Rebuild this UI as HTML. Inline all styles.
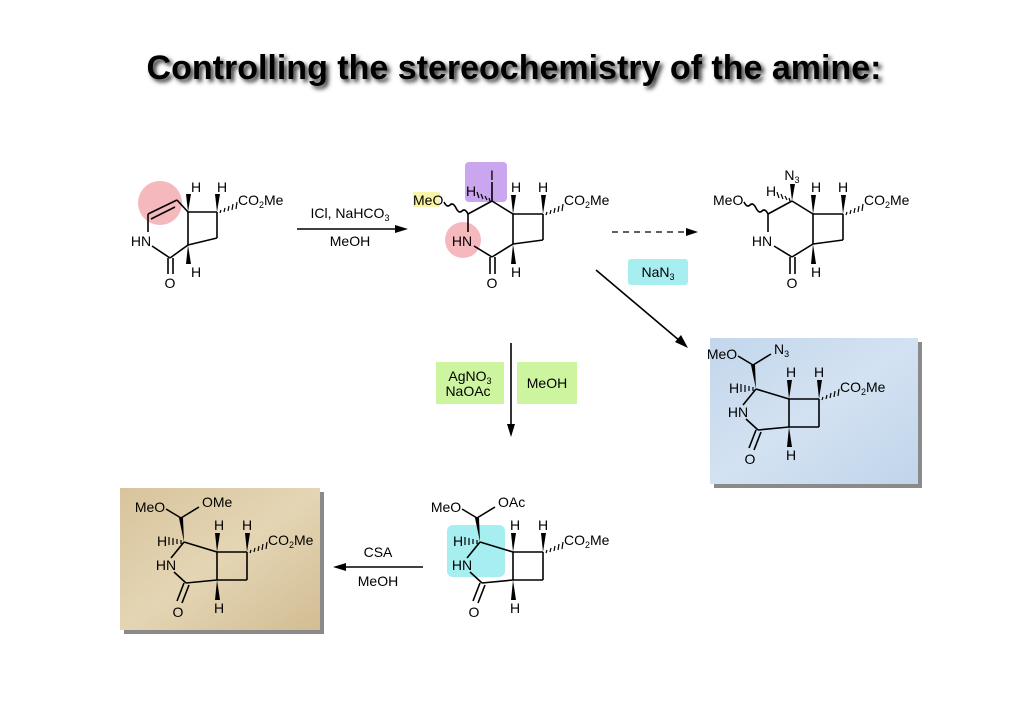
<!DOCTYPE html>
<html><head><meta charset="utf-8"><style>
html,body{margin:0;padding:0;background:#fff;}
svg{display:block;}
text{font-family:"Liberation Sans",sans-serif;font-size:14px;fill:#000;}
.b{stroke:#000;stroke-width:1.6;fill:none;}
.h{stroke:#000;stroke-width:1.2;}
</style></head><body>
<svg width="1024" height="724" viewBox="0 0 1024 724" xmlns="http://www.w3.org/2000/svg">
<defs>
<linearGradient id="blue" x1="0" y1="0" x2="1" y2="1">
<stop offset="0" stop-color="#c3d6ec"/><stop offset="0.5" stop-color="#d3e2f2"/><stop offset="1" stop-color="#c0d4ea"/></linearGradient>
<linearGradient id="tan" x1="0" y1="0" x2="1" y2="1">
<stop offset="0" stop-color="#d8c49c"/><stop offset="0.5" stop-color="#e4d5b4"/><stop offset="1" stop-color="#d2bd93"/></linearGradient>
<filter id="sh" x="-10%" y="-50%" width="120%" height="200%"><feGaussianBlur stdDeviation="2"/></filter>
</defs>
<!-- title -->
<text x="517" y="82" text-anchor="middle" filter="url(#sh)" style="font-size:34px;font-weight:bold;fill:#333">Controlling the stereochemistry of the amine:</text>
<text x="514" y="79" text-anchor="middle" style="font-size:34px;font-weight:bold">Controlling the stereochemistry of the amine:</text>

<!-- Molecule 1 -->
<circle cx="160" cy="203" r="22" fill="#f4b8bd"/>
<g>
<line class="b" x1="148" y1="214" x2="177" y2="200"/>
<line class="b" x1="151" y1="219" x2="175" y2="207"/>
<line class="b" x1="177" y1="200" x2="188" y2="212"/>
<line class="b" x1="148" y1="214" x2="148" y2="232"/>
<line class="b" x1="152" y1="246" x2="170" y2="258"/>
<line class="b" x1="170" y1="258" x2="188" y2="245"/>
<line class="b" x1="188" y1="212" x2="188" y2="245"/>
<line class="b" x1="168" y1="258" x2="168" y2="274"/>
<line class="b" x1="173" y1="258" x2="173" y2="274"/>
<line class="b" x1="188" y1="212" x2="217" y2="212"/>
<line class="b" x1="217" y1="212" x2="217" y2="238"/>
<line class="b" x1="217" y1="238" x2="188" y2="245"/>
<polygon points="188,212 186,194 191,194"/>
<polygon points="188,245 186,264 191,264"/>
<polygon points="217,212 215,194 220,194"/>
<g class="h"><line x1="221" y1="210" x2="220" y2="213"/><line x1="225" y1="208" x2="224" y2="212"/><line x1="229" y1="206" x2="228" y2="211"/><line x1="233" y1="204" x2="232" y2="210"/><line x1="237" y1="202" x2="236" y2="209"/></g>
<text x="196" y="192" text-anchor="middle">H</text>
<text x="222" y="192" text-anchor="middle">H</text>
<text x="196" y="277" text-anchor="middle">H</text>
<text x="238" y="205">CO<tspan font-size="9" dy="3">2</tspan><tspan dy="-3">Me</tspan></text>
<text x="141" y="246" text-anchor="middle">HN</text>
<text x="170" y="288" text-anchor="middle">O</text>
</g>

<!-- Arrow 1 -->
<line class="b" x1="297" y1="229" x2="400" y2="229" stroke-width="1.3"/>
<polygon points="408,229 395,225 395,233"/>
<text x="350" y="218" text-anchor="middle">ICl, NaHCO<tspan font-size="9" dy="3">3</tspan></text>
<text x="350" y="246" text-anchor="middle">MeOH</text>

<!-- Molecule 2 (middle top) -->
<rect x="413" y="192" width="27" height="15" fill="#f8f4a8"/>
<rect x="465" y="162" width="42" height="40" rx="4" fill="#c9a6ee"/>
<circle cx="463" cy="240" r="18" fill="#f4b8bd"/>
<g>
<line class="b" x1="468" y1="214" x2="492" y2="201"/>
<line class="b" x1="492" y1="201" x2="513" y2="214"/>
<line class="b" x1="513" y1="214" x2="513" y2="244"/>
<line class="b" x1="513" y1="244" x2="492" y2="257"/>
<line class="b" x1="492" y1="257" x2="474" y2="246"/>
<line class="b" x1="468" y1="232" x2="468" y2="214"/>
<line class="b" x1="490" y1="257" x2="490" y2="274"/>
<line class="b" x1="495" y1="257" x2="495" y2="274"/>
<line class="b" x1="513" y1="214" x2="543" y2="214"/>
<line class="b" x1="543" y1="214" x2="543" y2="240"/>
<line class="b" x1="543" y1="240" x2="513" y2="244"/>
<polygon points="513,214 511,195 516,195"/>
<polygon points="513,244 511,264 516,264"/>
<polygon points="543,214 541,195 546,195"/>
<g class="h"><line x1="547" y1="212" x2="546" y2="215"/><line x1="551" y1="210" x2="550" y2="214"/><line x1="555" y1="208" x2="554" y2="213"/><line x1="559" y1="206" x2="558" y2="212"/><line x1="563" y1="204" x2="562" y2="211"/></g>
<g class="h"><line x1="489" y1="198" x2="490" y2="201"/><line x1="485" y1="196" x2="487" y2="200"/><line x1="481" y1="194" x2="483" y2="199"/><line x1="477" y1="192" x2="479" y2="198"/></g>
<path class="b" stroke-width="1.2" d="M468,214 q-3,-6 -6,-3 q-3,3 -6,-3 q-3,-6 -6,-3 q-3,3 -6,-3"/>
<text x="516" y="192" text-anchor="middle">H</text>
<text x="543" y="192" text-anchor="middle">H</text>
<text x="516" y="277" text-anchor="middle">H</text>
<text x="564" y="205">CO<tspan font-size="9" dy="3">2</tspan><tspan dy="-3">Me</tspan></text>
<text x="462" y="246" text-anchor="middle">HN</text>
<text x="492" y="288" text-anchor="middle">O</text>
<text x="413" y="205">MeO</text>
<text x="471" y="196" text-anchor="middle">H</text>
</g>
<line class="b" x1="492" y1="201" x2="492" y2="182"/>
<text x="492" y="180" text-anchor="middle">I</text>

<!-- dashed arrow -->
<line x1="612" y1="232" x2="688" y2="232" stroke="#000" stroke-width="1.3" stroke-dasharray="6,5"/>
<polygon points="698,232 686,228 686,236"/>

<!-- Molecule 3 (top right) -->
<g transform="translate(300,0)">
<line class="b" x1="468" y1="214" x2="492" y2="201"/>
<line class="b" x1="492" y1="201" x2="513" y2="214"/>
<line class="b" x1="513" y1="214" x2="513" y2="244"/>
<line class="b" x1="513" y1="244" x2="492" y2="257"/>
<line class="b" x1="492" y1="257" x2="474" y2="246"/>
<line class="b" x1="468" y1="232" x2="468" y2="214"/>
<line class="b" x1="490" y1="257" x2="490" y2="274"/>
<line class="b" x1="495" y1="257" x2="495" y2="274"/>
<line class="b" x1="513" y1="214" x2="543" y2="214"/>
<line class="b" x1="543" y1="214" x2="543" y2="240"/>
<line class="b" x1="543" y1="240" x2="513" y2="244"/>
<polygon points="513,214 511,195 516,195"/>
<polygon points="513,244 511,264 516,264"/>
<polygon points="543,214 541,195 546,195"/>
<g class="h"><line x1="547" y1="212" x2="546" y2="215"/><line x1="551" y1="210" x2="550" y2="214"/><line x1="555" y1="208" x2="554" y2="213"/><line x1="559" y1="206" x2="558" y2="212"/><line x1="563" y1="204" x2="562" y2="211"/></g>
<g class="h"><line x1="489" y1="198" x2="490" y2="201"/><line x1="485" y1="196" x2="487" y2="200"/><line x1="481" y1="194" x2="483" y2="199"/><line x1="477" y1="192" x2="479" y2="198"/></g>
<path class="b" stroke-width="1.2" d="M468,214 q-3,-6 -6,-3 q-3,3 -6,-3 q-3,-6 -6,-3 q-3,3 -6,-3"/>
<text x="516" y="192" text-anchor="middle">H</text>
<text x="543" y="192" text-anchor="middle">H</text>
<text x="516" y="277" text-anchor="middle">H</text>
<text x="564" y="205">CO<tspan font-size="9" dy="3">2</tspan><tspan dy="-3">Me</tspan></text>
<text x="462" y="246" text-anchor="middle">HN</text>
<text x="492" y="288" text-anchor="middle">O</text>
<text x="413" y="205">MeO</text>
<text x="471" y="196" text-anchor="middle">H</text>
<polygon points="492,201 490,184 495,184"/>
<text x="492" y="180" text-anchor="middle">N<tspan font-size="9" dy="3">3</tspan></text>
</g>

<!-- NaN3 and diagonal arrow -->
<rect x="628" y="259" width="60" height="26" rx="3" fill="#a6eef0"/>
<text x="658" y="277" text-anchor="middle">NaN<tspan font-size="9" dy="3">3</tspan></text>
<line class="b" x1="596" y1="270" x2="680" y2="341" stroke-width="1.3"/>
<polygon points="688,348 675,342 681,335"/>

<!-- Blue box -->
<rect x="714" y="342" width="208" height="146" fill="#8a8a8a"/>
<rect x="710" y="338" width="208" height="146" fill="url(#blue)"/>

<!-- Vertical arrow with green boxes -->
<rect x="436" y="362" width="68" height="42" fill="#cdf5a0"/>
<rect x="517" y="362" width="60" height="42" fill="#cdf5a0"/>
<text x="470" y="381" text-anchor="middle">AgNO<tspan font-size="9" dy="3">3</tspan></text>
<text x="468" y="396" text-anchor="middle">NaOAc</text>
<text x="547" y="388" text-anchor="middle">MeOH</text>
<line class="b" x1="511" y1="343" x2="511" y2="428" stroke-width="1.3"/>
<polygon points="511,437 507,424 515,424"/>

<!-- bottom middle -->
<rect x="447" y="525" width="58" height="52" rx="6" fill="#a6eef0"/>
<g>
<line class="b" x1="480" y1="542" x2="513" y2="552"/>
<line class="b" x1="513" y1="552" x2="513" y2="580"/>
<line class="b" x1="513" y1="580" x2="482" y2="583"/>
<line class="b" x1="482" y1="583" x2="470" y2="572"/>
<line class="b" x1="467" y1="558" x2="480" y2="542"/>
<line class="b" x1="480" y1="583" x2="473" y2="601"/>
<line class="b" x1="485" y1="585" x2="478" y2="603"/>
<line class="b" x1="513" y1="552" x2="543" y2="552"/>
<line class="b" x1="543" y1="552" x2="543" y2="580"/>
<line class="b" x1="543" y1="580" x2="513" y2="580"/>
<polygon points="480,542 475,518 479,518"/>
<line class="b" x1="477" y1="518" x2="462" y2="509"/>
<line class="b" x1="477" y1="518" x2="495" y2="507"/>
<polygon points="513,552 511,533 516,533"/>
<polygon points="513,580 511,600 516,600"/>
<polygon points="543,552 541,533 546,533"/>
<g class="h"><line x1="547" y1="550" x2="546" y2="553"/><line x1="551" y1="548" x2="550" y2="552"/><line x1="555" y1="546" x2="554" y2="551"/><line x1="559" y1="544" x2="558" y2="550"/><line x1="563" y1="542" x2="562" y2="549"/></g>
<g class="h"><line x1="477" y1="540" x2="477" y2="544"/><line x1="473" y1="539" x2="473" y2="544"/><line x1="469" y1="538" x2="469" y2="545"/><line x1="465" y1="537" x2="465" y2="545"/></g>
<text x="515" y="530" text-anchor="middle">H</text>
<text x="543" y="530" text-anchor="middle">H</text>
<text x="515" y="613" text-anchor="middle">H</text>
<text x="564" y="545">CO<tspan font-size="9" dy="3">2</tspan><tspan dy="-3">Me</tspan></text>
<text x="462" y="570" text-anchor="middle">HN</text>
<text x="474" y="617" text-anchor="middle">O</text>
<text x="458" y="546" text-anchor="middle">H</text>
<text x="446" y="512" text-anchor="middle">MeO</text>
</g>
<text x="498" y="507">OAc</text>

<!-- blue box molecule -->
<g transform="translate(276,-153)">
<line class="b" x1="480" y1="542" x2="513" y2="552"/>
<line class="b" x1="513" y1="552" x2="513" y2="580"/>
<line class="b" x1="513" y1="580" x2="482" y2="583"/>
<line class="b" x1="482" y1="583" x2="470" y2="572"/>
<line class="b" x1="467" y1="558" x2="480" y2="542"/>
<line class="b" x1="480" y1="583" x2="473" y2="601"/>
<line class="b" x1="485" y1="585" x2="478" y2="603"/>
<line class="b" x1="513" y1="552" x2="543" y2="552"/>
<line class="b" x1="543" y1="552" x2="543" y2="580"/>
<line class="b" x1="543" y1="580" x2="513" y2="580"/>
<polygon points="480,542 475,518 479,518"/>
<line class="b" x1="477" y1="518" x2="462" y2="509"/>
<line class="b" x1="477" y1="518" x2="495" y2="507"/>
<polygon points="513,552 511,533 516,533"/>
<polygon points="513,580 511,600 516,600"/>
<polygon points="543,552 541,533 546,533"/>
<g class="h"><line x1="547" y1="550" x2="546" y2="553"/><line x1="551" y1="548" x2="550" y2="552"/><line x1="555" y1="546" x2="554" y2="551"/><line x1="559" y1="544" x2="558" y2="550"/><line x1="563" y1="542" x2="562" y2="549"/></g>
<g class="h"><line x1="477" y1="540" x2="477" y2="544"/><line x1="473" y1="539" x2="473" y2="544"/><line x1="469" y1="538" x2="469" y2="545"/><line x1="465" y1="537" x2="465" y2="545"/></g>
<text x="515" y="530" text-anchor="middle">H</text>
<text x="543" y="530" text-anchor="middle">H</text>
<text x="515" y="613" text-anchor="middle">H</text>
<text x="564" y="545">CO<tspan font-size="9" dy="3">2</tspan><tspan dy="-3">Me</tspan></text>
<text x="462" y="570" text-anchor="middle">HN</text>
<text x="474" y="617" text-anchor="middle">O</text>
<text x="458" y="546" text-anchor="middle">H</text>
<text x="446" y="512" text-anchor="middle">MeO</text>
<text x="498" y="507">N<tspan font-size="9" dy="3">3</tspan></text>
</g>

<!-- CSA arrow -->
<line class="b" x1="423" y1="567" x2="343" y2="567" stroke-width="1.3"/>
<polygon points="333,567 346,563 346,571"/>
<text x="378" y="557" text-anchor="middle">CSA</text>
<text x="378" y="586" text-anchor="middle">MeOH</text>

<!-- Tan box -->
<rect x="124" y="492" width="200" height="142" fill="#8a8a8a"/>
<rect x="120" y="488" width="200" height="142" fill="url(#tan)"/>
<g transform="translate(-296,0)">
<line class="b" x1="480" y1="542" x2="513" y2="552"/>
<line class="b" x1="513" y1="552" x2="513" y2="580"/>
<line class="b" x1="513" y1="580" x2="482" y2="583"/>
<line class="b" x1="482" y1="583" x2="470" y2="572"/>
<line class="b" x1="467" y1="558" x2="480" y2="542"/>
<line class="b" x1="480" y1="583" x2="473" y2="601"/>
<line class="b" x1="485" y1="585" x2="478" y2="603"/>
<line class="b" x1="513" y1="552" x2="543" y2="552"/>
<line class="b" x1="543" y1="552" x2="543" y2="580"/>
<line class="b" x1="543" y1="580" x2="513" y2="580"/>
<polygon points="480,542 475,518 479,518"/>
<line class="b" x1="477" y1="518" x2="462" y2="509"/>
<line class="b" x1="477" y1="518" x2="495" y2="507"/>
<polygon points="513,552 511,533 516,533"/>
<polygon points="513,580 511,600 516,600"/>
<polygon points="543,552 541,533 546,533"/>
<g class="h"><line x1="547" y1="550" x2="546" y2="553"/><line x1="551" y1="548" x2="550" y2="552"/><line x1="555" y1="546" x2="554" y2="551"/><line x1="559" y1="544" x2="558" y2="550"/><line x1="563" y1="542" x2="562" y2="549"/></g>
<g class="h"><line x1="477" y1="540" x2="477" y2="544"/><line x1="473" y1="539" x2="473" y2="544"/><line x1="469" y1="538" x2="469" y2="545"/><line x1="465" y1="537" x2="465" y2="545"/></g>
<text x="515" y="530" text-anchor="middle">H</text>
<text x="543" y="530" text-anchor="middle">H</text>
<text x="515" y="613" text-anchor="middle">H</text>
<text x="564" y="545">CO<tspan font-size="9" dy="3">2</tspan><tspan dy="-3">Me</tspan></text>
<text x="462" y="570" text-anchor="middle">HN</text>
<text x="474" y="617" text-anchor="middle">O</text>
<text x="458" y="546" text-anchor="middle">H</text>
<text x="446" y="512" text-anchor="middle">MeO</text>
<text x="498" y="507">OMe</text>
</g>
</svg>
</body></html>
